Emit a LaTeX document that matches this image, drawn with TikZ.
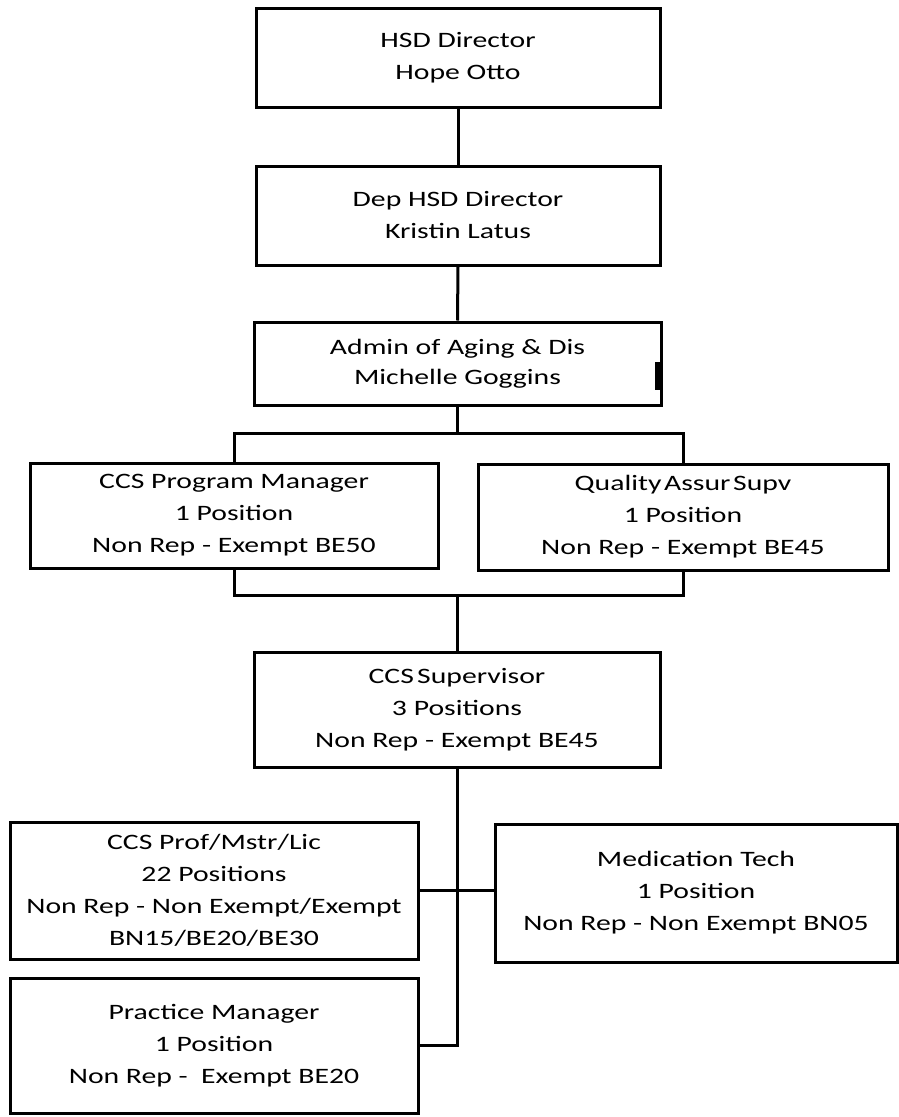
\documentclass[tikz,border=0pt]{standalone}
\usepackage{fontspec}
\newfontfamily\boxfont{Carlito}[FakeStretch=1.35]
\begin{document}
\begin{tikzpicture}[x=1pt,y=-1pt,
  orgbox/.style={draw, line width=3pt, rectangle, inner sep=0pt, align=center,
    font=\boxfont\fontsize{22}{32}\selectfont},
  link/.style={line width=3pt}]
\useasboundingbox[fill=white] (0,0) rectangle (899,1117);

% boxes
\node[orgbox, minimum width=404pt, minimum height=99pt] (hsd) at (458,57.5)
  {HSD Director\\Hope Otto};
\node[orgbox, minimum width=404pt, minimum height=99pt] (dep) at (458,215.5)
  {Dep HSD Director\\Kristin Latus};
\node[orgbox, minimum width=407pt, minimum height=83pt, font=\boxfont\fontsize{22}{30}\selectfont] (admin) at (457.5,363.5)
  {Admin of Aging \& Dis\\Michelle Goggins};
\node[orgbox, minimum width=408pt, minimum height=105pt] (pm) at (234,515.5)
  {CCS Program Manager\\1 Position\\Non Rep - Exempt BE50};
\node[orgbox, minimum width=410pt, minimum height=106pt] (qa) at (683,517)
  {Quality\hspace{0.12em}Assur\hspace{0.12em}Supv\\1 Position\\Non Rep - Exempt BE45};
\node[orgbox, minimum width=406pt, minimum height=115pt] (sup) at (457,709.5)
  {CCS\hspace{0.15em}Supervisor\\3 Positions\\Non Rep - Exempt BE45};
\node[orgbox, minimum width=408pt, minimum height=137pt] (prof) at (214,890.5)
  {CCS Prof/Mstr/Lic\\22 Positions\\Non Rep - Non Exempt/Exempt\\BN15/BE20/BE30};
\node[orgbox, minimum width=402pt, minimum height=138pt] (med) at (696,893)
  {Medication Tech\\1 Position\\Non Rep - Non Exempt BN05};
\node[orgbox, minimum width=408pt, minimum height=135pt] (prac) at (214,1045.5)
  {Practice Manager\\1 Position\\Non Rep -\ \ Exempt BE20};

% thick mark on the right edge of the admin box
\fill (655,362) rectangle (661,390);

% connectors
\coordinate (topbar) at (457,433);
\coordinate (botbar) at (457,595);
\draw[link] (hsd.south) -- (dep.north);
\draw[link] (dep.south) -- (admin.north);
\draw[link] (admin.south) -- (admin.south |- topbar);
\draw[link] (pm.north) -- (pm.north |- topbar) -- (qa.north |- topbar) -- (qa.north);
\draw[link] (pm.south) -- (pm.south |- botbar) -- (qa.south |- botbar) -- (qa.south);
\draw[link] (sup.north |- botbar) -- (sup.north);
\draw[link] (sup.south) |- (prac.east);
\draw[link] (prof.east) -- (prof.east -| med.west);
\end{tikzpicture}
\end{document}
